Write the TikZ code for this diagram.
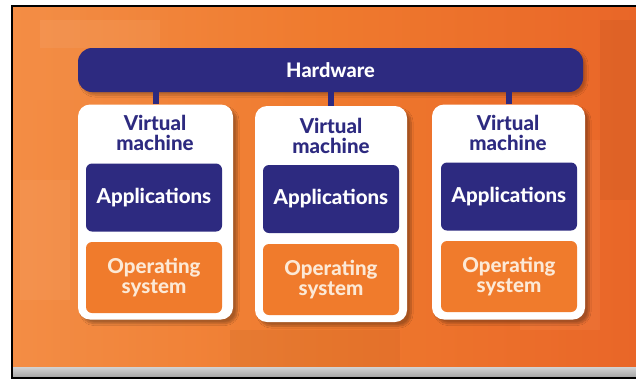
\documentclass[tikz,border=0pt]{standalone}
\usepackage{fontspec}
\setmainfont{Lato}[BoldFont={Lato Heavy}]
\usetikzlibrary{shadows.blur}
\definecolor{navy}{HTML}{2D2A80}
\definecolor{bgor}{HTML}{EF7A2E}
\definecolor{bgl}{HTML}{F38D45}
\definecolor{bgd}{HTML}{E96628}
\definecolor{osor}{HTML}{F07B2C}
\definecolor{ostext}{HTML}{FCE9D6}
\tikzset{
  hwbar/.style={fill=navy, rounded corners=14pt, text=white, font=\bfseries\fontsize{20}{22}\selectfont,
    minimum width=505pt, minimum height=44pt, inner sep=0pt,
    blur shadow={shadow xshift=3pt, shadow yshift=-3pt, shadow blur steps=6, shadow opacity=25}},
  vmbox/.style={fill=white, rounded corners=12pt, inner sep=0pt,
    blur shadow={shadow xshift=4pt, shadow yshift=-4pt, shadow blur steps=8, shadow opacity=30}},
  vmtext/.style={text=navy, font=\bfseries\fontsize{20.5}{19.5}\selectfont, align=center, inner sep=0pt},
  appbox/.style={fill=navy, rounded corners=6pt, text=white, font=\bfseries\fontsize{20.5}{22}\selectfont,
    minimum width=136pt, minimum height=68pt, inner sep=0pt},
  osbox/.style={fill=osor, rounded corners=6pt, text=ostext, font=\bfseries\fontsize{20.5}{20}\selectfont,
    minimum width=136pt, minimum height=71pt, inner sep=0pt, align=center},
  stub/.style={draw=navy, line width=6pt},
  frameline/.style={draw=black, line width=2.5pt},
}
\begin{document}
\begin{tikzpicture}[x=1pt, y=-1pt]
\useasboundingbox (0,0) rectangle (636,381);
\fill[white] (0,0) rectangle (636,381);
% background
\shade[left color=bgl, right color=bgd, middle color=bgor] (12,6) rectangle (636,368);
\fill[bgl, opacity=0.5] (12,6) rectangle (80,100);
\fill[white, opacity=0.06] (40,20) rectangle (160,48);
\fill[white, opacity=0.05] (520,140) rectangle (600,330);
\fill[black, opacity=0.04] (230,330) rectangle (400,368);
\fill[black, opacity=0.04] (600,20) rectangle (636,200);
\fill[white, opacity=0.05] (20,180) rectangle (70,300);
% bottom gray bar
\shade[top color=gray!35, bottom color=gray!70] (12,367) rectangle (636,377);
% frame
\draw[frameline] (636,6) -- (12,6) -- (12,378) -- (636,378);
% hardware
\node[hwbar] (hw) at (330.5,70) {Hardware};
% VMs
\node[vmbox, minimum width=155pt, minimum height=215pt] (vm1) at (155.5,212) {};
\node[vmbox, minimum width=152pt, minimum height=216pt] (vm2) at (331,214) {};
\node[vmbox, minimum width=153pt, minimum height=215pt] (vm3) at (508.5,212) {};
% stubs
\draw[stub] (vm1.north) -- (vm1.north |- hw.south);
\draw[stub] (vm2.north) -- (vm2.north |- hw.south);
\draw[stub] (vm3.north) -- (vm3.north |- hw.south);
% texts
\node[vmtext] (t1) at (155,133) {Virtual\\machine};
\node[vmtext] (t2) at (331,136) {Virtual\\machine};
\node[vmtext] (t3) at (508,133) {Virtual\\machine};
\node[appbox] (a1) at (154,197.5) {Applications};
\node[appbox] (a2) at (331,199) {Applications};
\node[appbox] (a3) at (509,196.5) {Applications};
\node[osbox] (o1) at (154,277.5) {Operating\\system};
\node[osbox] (o2) at (331,279.5) {Operating\\system};
\node[osbox] (o3) at (509,276.5) {Operating\\system};
\end{tikzpicture}
\end{document}
